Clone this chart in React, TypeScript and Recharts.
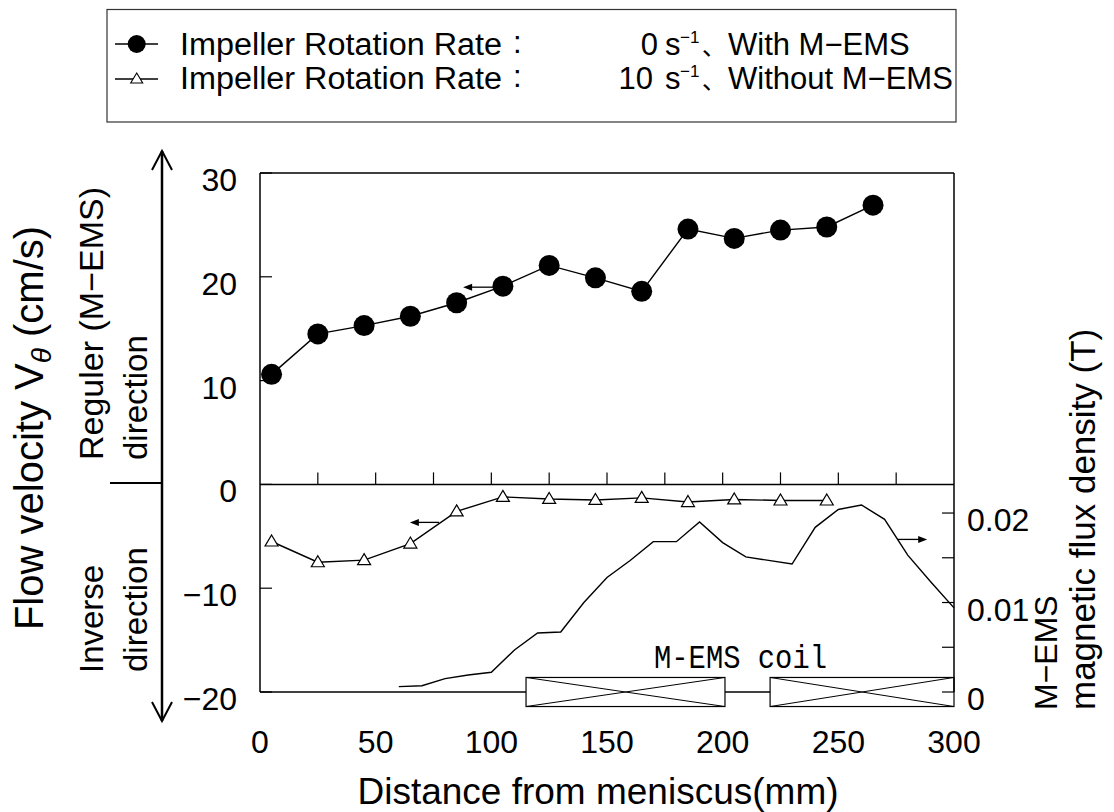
import React from 'react';
import { ComposedChart, Line, XAxis, YAxis, ReferenceLine, ReferenceArea } from 'recharts';

// ---- data ----
const withEmsX = [5, 25, 45, 65, 85, 105, 125, 145, 165, 185, 205, 225, 245, 265];
const withEmsV = [10.6, 14.5, 15.3, 16.2, 17.5, 19.1, 21.1, 19.9, 18.6, 24.6, 23.7, 24.5, 24.8, 26.9];
const withoutEmsX = [5, 25, 45, 65, 85, 105, 125, 145, 165, 185, 205, 225, 245];
const withoutEmsV = [-5.5, -7.5, -7.3, -5.7, -2.6, -1.2, -1.4, -1.5, -1.3, -1.7, -1.45, -1.55, -1.55];
const fluxX = [60, 70, 80, 90, 100, 110, 120, 130, 140, 150, 160, 170, 180, 190, 200, 210, 230, 240, 250, 260, 270, 280, 290, 300];
const fluxB = [0.0006, 0.0007, 0.0015, 0.0019, 0.0022, 0.0047, 0.0066, 0.0067, 0.01, 0.0128, 0.0147, 0.0168, 0.0168, 0.019, 0.0167, 0.0151, 0.0143, 0.0184, 0.0204, 0.0209, 0.0193, 0.0153, 0.0123, 0.0094];
const xTicks = [0, 50, 100, 150, 200, 250, 300];
const innerXTicks = [25, 50, 75, 100, 125, 150, 175, 200, 225, 250, 275];
const leftTicks = [-20, -10, 0, 10, 20, 30];
const rightTicks = [0, 0.005, 0.01, 0.015, 0.02];
const rightTickLabels = ['0', '', '0.01', '', '0.02'];
const coilStart = [115, 220.5];
const coilEnd = [201, 300];
const coilBottom = -21.4;
const coilTop = -18.6;
// small direction arrows: [tailX, headX, y] (left axis units)
const arrowTail = [100.7, 77.4, 275.8];
const arrowHead = [87.8, 64.8, 288.4];
const arrowY = [19.0, -3.66, -5.3];

const withEmsData = withEmsX.map((x, i) => ({ x, y: withEmsV[i] }));
const withoutEmsData = withoutEmsX.map((x, i) => ({ x, y: withoutEmsV[i] }));
const fluxData = fluxX.map((x, i) => ({ x, y: fluxB[i] }));
const innerTickData = innerXTicks.map((x) => ({ x, y: 0 }));

const FONT = "'Liberation Sans', Arial, Helvetica, sans-serif";
const CJK = "'Noto Sans CJK JP', sans-serif";
const MONO = "'Liberation Mono', 'DejaVu Sans Mono', monospace";

const fmtLeft = (v: number) => (v < 0 ? '\u2212' + Math.abs(v) : String(v));

const LeftTick = (p: any) => {
  const { x, y, payload } = p;
  return (
    <g>
      <line x1={x + 23} x2={x + 35} y1={y} y2={y} stroke="#000" strokeWidth={1.2} />
      <text x={x} y={y + 18} textAnchor="end" fontSize={32} fontFamily={FONT} fill="#000">
        {fmtLeft(payload.value)}
      </text>
    </g>
  );
};

const RightTick = (p: any) => {
  const { x, y, index } = p;
  const label = rightTickLabels[index] ?? '';
  return (
    <g>
      <line x1={x - 13} x2={x - 25} y1={y} y2={y} stroke="#000" strokeWidth={1.2} />
      {label && (
        <text x={x} y={y + 18} textAnchor="start" fontSize={32} fontFamily={FONT} fill="#000">
          {label}
        </text>
      )}
    </g>
  );
};

const XTick = (p: any) => {
  const { x, y, payload } = p;
  return (
    <text x={x} y={y + 61} textAnchor="middle" fontSize={32} fontFamily={FONT} fill="#000">
      {payload.value}
    </text>
  );
};

const TriangleDot = (p: any) => {
  const { cx, cy, key } = p;
  if (cx == null || cy == null) return null;
  return (
    <path
      key={key}
      d={`M${cx},${cy - 6.5} L${cx + 6.5},${cy + 4.5} L${cx - 6.5},${cy + 4.5} Z`}
      fill="#fff"
      stroke="#000"
      strokeWidth={1.2}
    />
  );
};

const InnerTickDot = (p: any) => {
  const { cx, cy, key } = p;
  if (cx == null || cy == null) return null;
  return <line key={key} x1={cx} x2={cx} y1={cy} y2={cy - 12} stroke="#000" strokeWidth={1.2} />;
};

const ArrowShape = (p: any) => {
  const { x1, y1, x2, y2 } = p;
  const s = x2 > x1 ? 1 : -1;
  return (
    <g>
      <line x1={x1} y1={y1} x2={x2 - s * 6} y2={y2} stroke="#000" strokeWidth={1.3} />
      <polygon points={`${x2},${y2} ${x2 - s * 9},${y2 - 3.5} ${x2 - s * 9},${y2 + 3.5}`} fill="#000" />
    </g>
  );
};

const CoilShape = (p: any) => {
  const { x, y, width, height } = p;
  return (
    <g>
      <rect x={x} y={y} width={width} height={height} fill="#fff" stroke="#000" strokeWidth={1.2} />
      <line x1={x} y1={y} x2={x + width} y2={y + height} stroke="#000" strokeWidth={1} />
      <line x1={x} y1={y + height} x2={x + width} y2={y} stroke="#000" strokeWidth={1} />
    </g>
  );
};

const Overlay = () => (
  <svg
    width={1098}
    height={804}
    style={{ position: 'absolute', left: 0, top: 0, pointerEvents: 'none' }}
  >
    {/* legend */}
    <rect x={99} y={1.5} width={849} height={112.5} fill="none" stroke="#333" strokeWidth={1.2} />
    <line x1={107} x2={150} y1={36} y2={36} stroke="#000" strokeWidth={1.3} />
    <circle cx={128.7} cy={36} r={9} fill="#000" />
    <line x1={107} x2={150} y1={71} y2={71} stroke="#000" strokeWidth={1.3} />
    <path d="M128.7,65 L134.7,75 L122.7,75 Z" fill="#fff" stroke="#000" strokeWidth={1.1} />
    <g fontFamily={FONT} fontSize={31} fill="#000">
      <text x={172} y={47} textLength={322} lengthAdjust="spacingAndGlyphs">Impeller Rotation Rate</text>
      <text x={505} y={45}>:</text>
      <text x={650} y={47} textAnchor="end">0</text>
      <text x={657} y={47}>s</text>
      <text x={672} y={35} fontSize={17}>−1</text>
      <text x={694} y={47} fontFamily={CJK} fontSize={24}>、</text>
      <text x={720} y={47}>With M−EMS</text>

      <text x={172} y={81} textLength={322} lengthAdjust="spacingAndGlyphs">Impeller Rotation Rate</text>
      <text x={505} y={79}>:</text>
      <text x={645} y={81} textAnchor="end">10</text>
      <text x={657} y={81}>s</text>
      <text x={672} y={69} fontSize={17}>−1</text>
      <text x={694} y={81} fontFamily={CJK} fontSize={24}>、</text>
      <text x={720} y={81}>Without M−EMS</text>
    </g>

    {/* left y-axis title */}
    <text transform="translate(35,420) rotate(-90)" textAnchor="middle" fontFamily={FONT} fontSize={40} fill="#000">
      Flow velocity V
      <tspan fontSize={28} fontStyle="italic" dy={8}>θ</tspan>
      <tspan dy={-8}> (cm/s)</tspan>
    </text>
    <text transform="translate(95,452) rotate(-90)" fontFamily={FONT} fontSize={34} fill="#000">Reguler (M−EMS)</text>
    <text transform="translate(139,452) rotate(-90)" fontFamily={FONT} fontSize={33} fill="#000">direction</text>
    <text transform="translate(95,665) rotate(-90)" fontFamily={FONT} fontSize={33} fill="#000">Inverse</text>
    <text transform="translate(139,664) rotate(-90)" fontFamily={FONT} fontSize={33} fill="#000">direction</text>

    {/* big double arrow */}
    <line x1={154} x2={154} y1={143} y2={713} stroke="#000" strokeWidth={2.5} />
    <polyline points="144,162 154,143 164,162" fill="none" stroke="#000" strokeWidth={2} />
    <polyline points="144,694 154,713 164,694" fill="none" stroke="#000" strokeWidth={2} />
    <line x1={102} x2={154} y1={475} y2={475} stroke="#000" strokeWidth={1.8} />

    {/* right y-axis title */}
    <text transform="translate(1049,702) rotate(-90)" fontFamily={FONT} fontSize={32} fill="#000">M−EMS</text>
    <text transform="translate(1087,702) rotate(-90)" fontFamily={FONT} fontSize={35} fill="#000">magnetic flux density (T)</text>

    {/* coil label */}
    <text x={646} y={660} fontFamily={MONO} fontSize={34} textLength={173} lengthAdjust="spacingAndGlyphs" fill="#000">M-EMS coil</text>

    {/* x-axis title */}
    <text x={590} y={796} textAnchor="middle" fontFamily={FONT} fontSize={37} fill="#000">Distance from meniscus(mm)</text>
  </svg>
);

export default function App() {
  return (
    <div style={{ position: 'relative', width: 1098, height: 804 }}>
      <ComposedChart width={1098} height={804} margin={{ top: 165, right: 52, bottom: 60, left: 192 }}>
        <XAxis
          xAxisId="x"
          dataKey="x"
          type="number"
          domain={[0, 300]}
          ticks={xTicks}
          interval={0}
          axisLine={false}
          tickLine={false}
          tickSize={0}
          tickMargin={0}
          height={60}
          tick={<XTick />}
        />
        <YAxis
          yAxisId="L"
          dataKey="y"
          type="number"
          domain={[-20, 30]}
          ticks={leftTicks}
          interval={0}
          width={60}
          axisLine={{ stroke: '#000', strokeWidth: 1.5 }}
          tickLine={false}
          tickSize={0}
          tickMargin={23}
          tick={<LeftTick />}
        />
        <YAxis
          yAxisId="B"
          orientation="right"
          dataKey="y"
          type="number"
          domain={[0, 0.058]}
          ticks={rightTicks}
          interval={0}
          width={100}
          axisLine={{ stroke: '#000', strokeWidth: 1.5 }}
          tickLine={false}
          tickSize={0}
          tickMargin={13}
          tick={<RightTick />}
        />

        <ReferenceLine xAxisId="x" yAxisId="L" y={30} stroke="#000" strokeWidth={1.5} />
        <ReferenceLine xAxisId="x" yAxisId="L" y={0} stroke="#000" strokeWidth={1.5} />
        <ReferenceLine
          xAxisId="x"
          yAxisId="L"
          segment={[{ x: 0, y: -20 }, { x: coilStart[0], y: -20 }]}
          stroke="#000"
          strokeWidth={1.5}
          ifOverflow="visible"
        />
        <ReferenceLine
          xAxisId="x"
          yAxisId="L"
          segment={[{ x: coilEnd[0], y: -20 }, { x: coilStart[1], y: -20 }]}
          stroke="#000"
          strokeWidth={1.5}
          ifOverflow="visible"
        />
        {coilStart.map((s, i) => (
          <ReferenceArea
            key={'coil' + i}
            xAxisId="x"
            yAxisId="L"
            x1={s}
            x2={coilEnd[i]}
            y1={coilBottom}
            y2={coilTop}
            ifOverflow="visible"
            shape={<CoilShape />}
          />
        ))}
        {arrowTail.map((t, i) => (
          <ReferenceLine
            key={'arr' + i}
            xAxisId="x"
            yAxisId="L"
            segment={[{ x: t, y: arrowY[i] }, { x: arrowHead[i], y: arrowY[i] }]}
            ifOverflow="visible"
            shape={(p: any) => <ArrowShape {...p} />}
          />
        ))}

        <Line
          xAxisId="x"
          yAxisId="L"
          data={innerTickData}
          dataKey="y"
          stroke="none"
          dot={(p: any) => <InnerTickDot {...p} />}
          activeDot={false}
          isAnimationActive={false}
          legendType="none"
        />
        <Line
          xAxisId="x"
          yAxisId="B"
          data={fluxData}
          dataKey="y"
          stroke="#000"
          strokeWidth={1.4}
          dot={false}
          activeDot={false}
          isAnimationActive={false}
        />
        <Line
          xAxisId="x"
          yAxisId="L"
          data={withoutEmsData}
          dataKey="y"
          stroke="#000"
          strokeWidth={1.4}
          dot={(p: any) => <TriangleDot {...p} />}
          activeDot={false}
          isAnimationActive={false}
        />
        <Line
          xAxisId="x"
          yAxisId="L"
          data={withEmsData}
          dataKey="y"
          stroke="#000"
          strokeWidth={1.4}
          dot={{ r: 10.5, fill: '#000', stroke: '#000', strokeWidth: 0 }}
          activeDot={false}
          isAnimationActive={false}
        />
      </ComposedChart>
      <Overlay />
    </div>
  );
}
